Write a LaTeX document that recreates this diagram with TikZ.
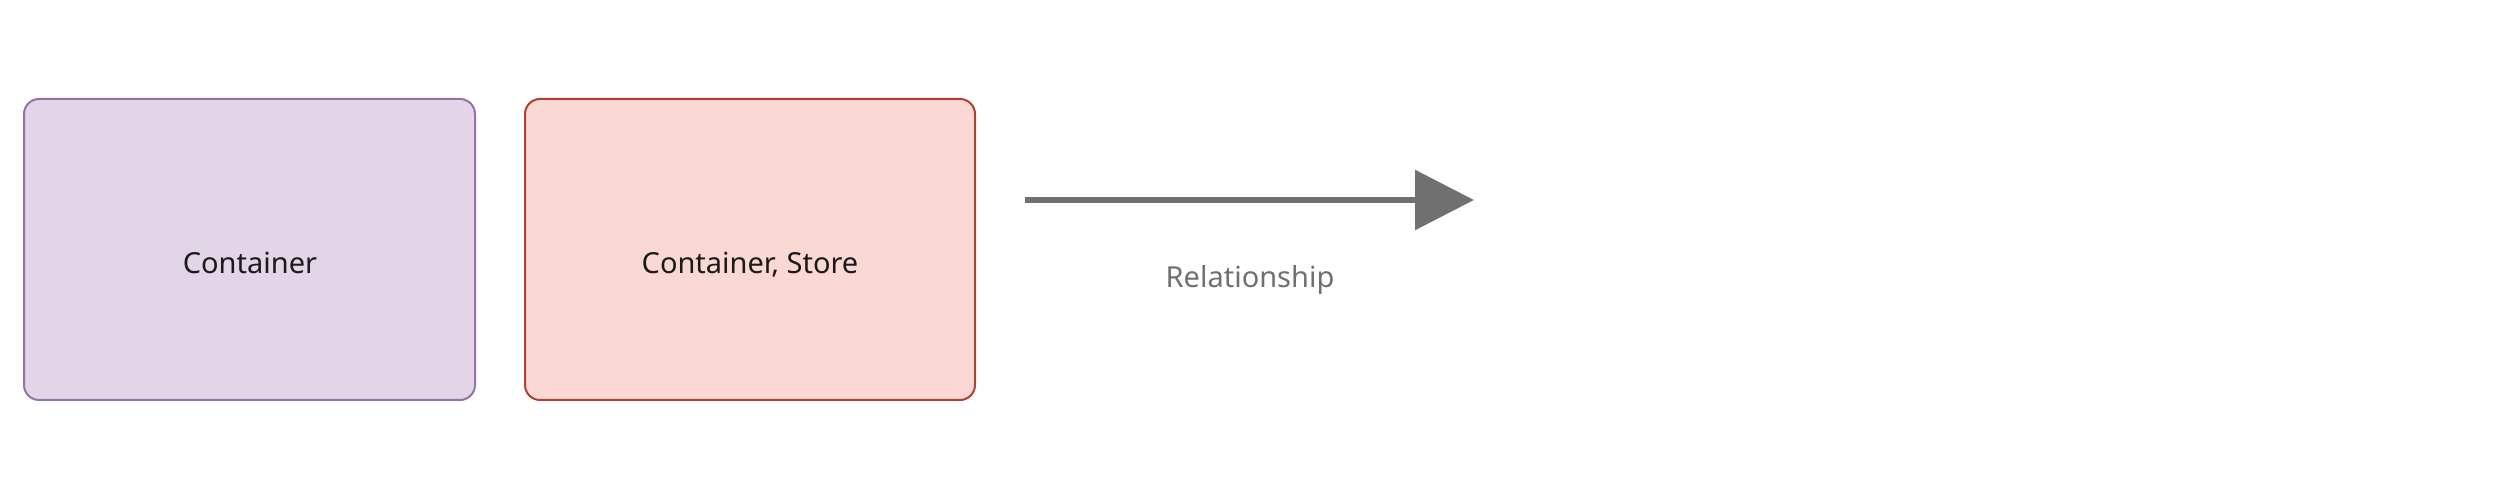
\documentclass[tikz,border=0pt]{standalone}
\usepackage{fontspec}
\setmainfont{Noto Sans}
\usetikzlibrary{arrows.meta}
\definecolor{purfill}{HTML}{E1D5E7}
\definecolor{purline}{HTML}{9673A6}
\definecolor{redfill}{HTML}{FAD9D5}
\definecolor{redline}{HTML}{AE4132}
\definecolor{relgray}{HTML}{707070}
\definecolor{txt}{HTML}{1A1A1A}
\tikzset{
  x=1pt,y=1pt,
  boxshape/.style={rounded corners=15pt, line width=2pt},
  boxtext/.style={anchor=base, inner sep=0pt, text=txt, font=\fontsize{29}{34}\selectfont},
  reltext/.style={anchor=base, inner sep=0pt, text=relgray, font=\fontsize{29}{34}\selectfont},
  relline/.style={draw=relgray, line width=6pt, -{Triangle[length=59pt,width=59pt]}}
}
\begin{document}
\begin{tikzpicture}
\useasboundingbox (0,0) rectangle (2500,500);
\draw[boxshape, fill=purfill, draw=purline] (24,401) rectangle (475,100);
\draw[boxshape, fill=redfill, draw=redline] (525,401) rectangle (975,100);
\node[boxtext] (c1) at (250,226.5) {Container};
\node[boxtext] (c2) at (750,226.5) {Container, Store};
\coordinate (rs) at (1025,300);
\coordinate (re) at (1474,300);
\draw[relline] (rs) -- (re);
\node[reltext] (rl) at (1250,212.5) {Relationship};
\end{tikzpicture}
\end{document}
